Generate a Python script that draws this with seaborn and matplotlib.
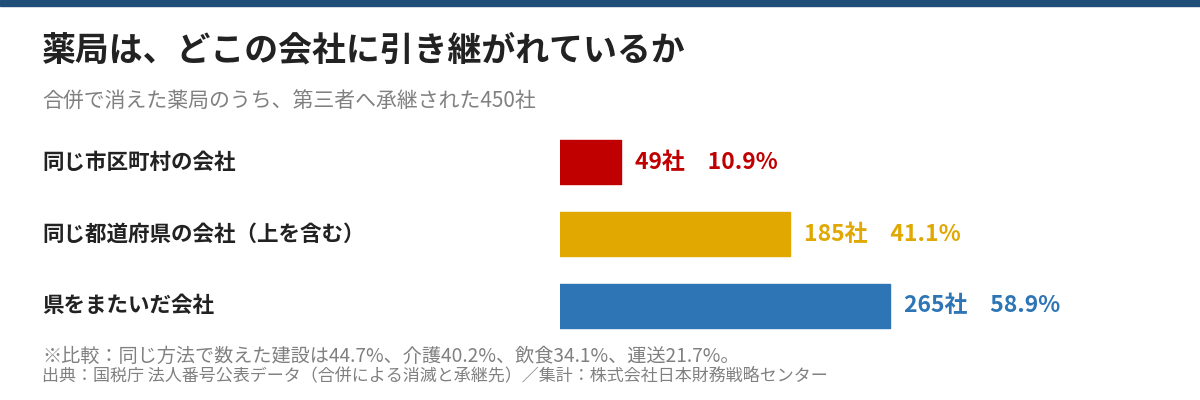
import matplotlib
matplotlib.use("Agg")
import matplotlib.pyplot as plt
import seaborn as sns
import pandas as pd
from matplotlib.patches import Rectangle
from matplotlib.transforms import blended_transform_factory

# data
categories = ['同じ市区町村の会社', '同じ都道府県の会社（上を含む）', '県をまたいだ会社']
counts = [49, 185, 265]
shares = [10.9, 41.1, 58.9]
colors = ['#c00000', '#e0a800', '#2e75b6']

title = '薬局は、どこの会社に引き継がれているか'
subtitle = '合併で消えた薬局のうち、第三者へ承継された450社'
note = '※比較：同じ方法で数えた建設は44.7%、介護40.2%、飲食34.1%、運送21.7%。'
source = '出典：国税庁 法人番号公表データ（合併による消滅と承継先）／集計：株式会社日本財務戦略センター'

sns.set_style('white')
plt.rcParams['font.family'] = ['Noto Sans CJK JP', 'DejaVu Sans']

df = pd.DataFrame({'category': categories, 'count': counts})

fig = plt.figure(figsize=(12, 4), dpi=100)
ax = fig.add_axes([560 / 1200, 1 - 342 / 400, 600 / 1200, 216 / 400])

sns.barplot(data=df, x='count', y='category', hue='category', palette=colors,
            orient='h', width=0.61, legend=False, ax=ax,
            linewidth=1.0, saturation=1)
for p, c in zip(ax.patches, colors):
    p.set_edgecolor(c)
    p.set_joinstyle('round')

ax.set_xlim(0, 482)
ax.set_ylim(2.5, -0.5)
ax.set_xlabel('')
ax.set_ylabel('')
ax.set_xticks([])
ax.set_yticks([])
sns.despine(ax=ax, left=True, bottom=True)

# value labels next to bars
for i, (n, s, c) in enumerate(zip(counts, shares, colors)):
    ax.annotate(f'{n}社\u3000{s:.1f}%', xy=(n, i), xytext=(10, 0),
                textcoords='offset points', va='center', ha='left',
                fontsize=16.5, fontweight='bold', color=c)

# category labels, left aligned at the figure margin
trans = blended_transform_factory(fig.transFigure, ax.transData)
for i, cat in enumerate(categories):
    ax.text(42 / 1200, i, cat, transform=trans, ha='left', va='center',
            fontsize=15.5, fontweight='bold', color='#222222')

# header band
fig.patches.append(Rectangle((0, 1 - 6 / 400), 1, 6 / 400, transform=fig.transFigure,
                             color='#1f4e79', zorder=5))

fig.text(42 / 1200, 1 - 50 / 400, title, ha='left', va='center',
         fontsize=24.4, fontweight='bold', color='#222222')
fig.text(42 / 1200, 1 - 102 / 400, subtitle, ha='left', va='center',
         fontsize=15, color='#808080')
fig.text(42 / 1200, 1 - 356 / 400, note, ha='left', va='center',
         fontsize=13.8, color='#808080')
fig.text(42 / 1200, 1 - 375 / 400, source, ha='left', va='center',
         fontsize=12.25, color='#808080')

fig.savefig('out.png', dpi=100)
